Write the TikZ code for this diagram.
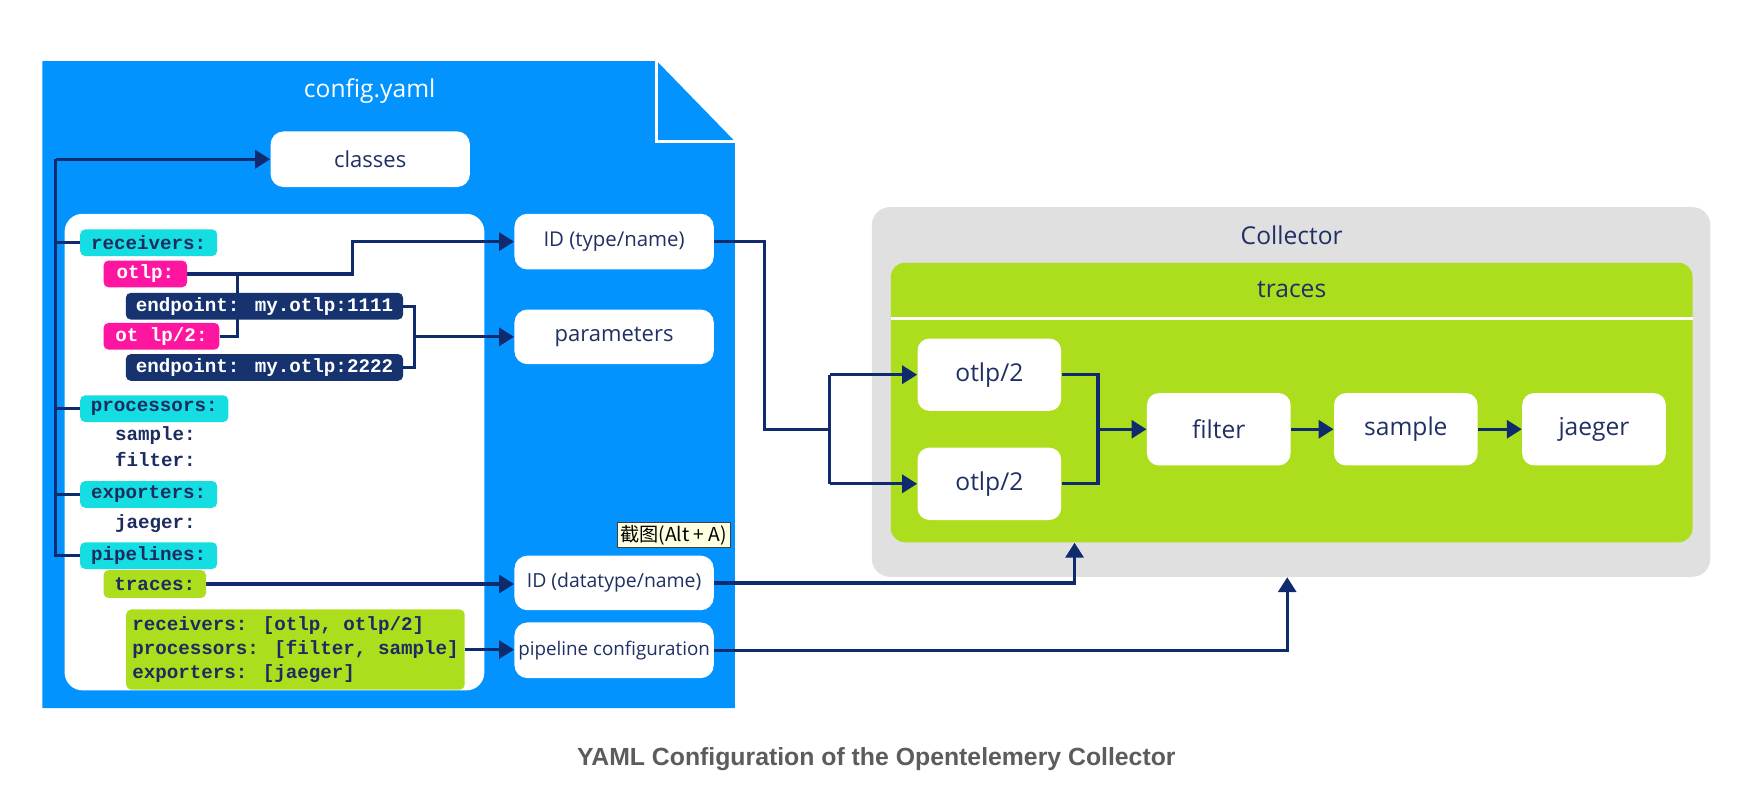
\documentclass[tikz,border=0pt]{standalone}
\usepackage{fontspec}
\setmainfont{Open Sans}
\newfontfamily\lab{Open Sans}
\newfontfamily\code{Liberation Mono}
\newfontfamily\captionfont{Liberation Sans}
\newfontfamily\cjkfont{Noto Sans CJK SC}
\usetikzlibrary{arrows.meta}
\pgfdeclarelayer{back}
\pgfdeclarelayer{mid}
\pgfsetlayers{back,mid,main}
\definecolor{docblue}{RGB}{2,147,255}
\definecolor{arrnavy}{RGB}{16,42,110}
\definecolor{labnavy}{RGB}{32,48,100}
\definecolor{codenavy}{RGB}{28,44,96}
\definecolor{epnavy}{RGB}{22,51,112}
\definecolor{cyanA}{RGB}{20,222,226}
\definecolor{magA}{RGB}{255,22,160}
\definecolor{grnA}{RGB}{172,222,30}
\definecolor{grayA}{RGB}{224,224,224}
\definecolor{tipyellow}{RGB}{255,255,225}
\definecolor{capgray}{RGB}{92,92,92}
\newcommand\bx[7]{\node[#6,minimum width={(#4-#2)*0.55675pt},minimum height={(#5-#3)*0.55675pt}] (#1) at ({(#2+#4)/2},{(#3+#5)/2}) {#7};}
\newcommand\fs[1]{\fontsize{#1}{#1}\selectfont}
\tikzset{
  wbox/.style={fill=white, rounded corners=6.5pt, inner sep=1pt, text=labnavy, font=\lab\fs{11}},
  cbox/.style={fill=white, rounded corners=6pt, inner sep=1pt, text=labnavy, font=\lab\fs{12.3}},
  tag/.style={rounded corners=2.5pt, inner sep=1pt, font=\code\bfseries\fs{9.6}},
  cyantag/.style={tag, fill=cyanA, text=codenavy},
  magtag/.style={tag, fill=magA, text=white},
  eptag/.style={tag, fill=epnavy, text=white},
  greentag/.style={tag, fill=grnA, text=codenavy},
  plaincode/.style={anchor=west, inner sep=0pt, text=codenavy, font=\code\bfseries\fs{9.6}},
  conn/.style={draw=arrnavy, line width=1.6pt},
  arr/.style={conn, -{Triangle[length=7.5pt,width=9pt]}},
  title/.style={inner sep=0pt, font=\lab\fs{12.3}}
}
\begin{document}
\begin{tikzpicture}[x=0.55675pt,y=-0.55675pt]
\useasboundingbox (0,0) rectangle (1568,714);
\begin{pgfonlayer}{back}
  % config document
  \fill[docblue] (38,55) -- (590,55) -- (660,127) -- (660,636) -- (38,636) -- cycle;
  \draw[white, line width=1.5pt] (590,55) -- (590,127) -- (660,127);
  \bx{panel}{58}{192}{435}{620}{fill=white, rounded corners=9pt}{}
  % collector
  \bx{col}{783}{186}{1536}{518}{fill=grayA, rounded corners=9pt}{}
  \bx{tp}{800}{236}{1520}{487}{fill=grnA, rounded corners=7pt}{}
  \draw[white, line width=1.8pt] (800,286) -- (1520,286);
\end{pgfonlayer}

\node[title, text=white] (cfgtitle) at (332,82) {config.yaml};
\node[title, text=labnavy] (coltitle) at (1160,211) {Collector};
\node[title, text=labnavy] (trtitle) at (1160,260) {traces};

\bx{classes}{243}{118}{422}{168}{wbox}{classes}
\bx{idt}{462}{192}{641}{242}{wbox, font=\lab\fs{10.2}}{ID (type/name)}
\bx{params}{462}{278}{641}{327}{wbox}{parameters}
\bx{idd}{462}{499}{641}{548}{wbox, font=\lab\fs{9.7}}{ID (datatype/name)}
\bx{pc}{462}{559}{641}{609}{wbox, font=\lab\fs{9.4}}{pipeline configuration}

\bx{rec}{72}{206}{195}{230}{cyantag}{receivers:}
\bx{otlp}{93}{234}{168}{258}{magtag}{otlp:}
\bx{ep1}{113}{263}{362}{287}{eptag}{endpoint: my.otlp:1111}
\bx{otlpb}{93}{290}{197}{314}{magtag}{ot lp/2:}
\bx{ep2}{113}{318}{362}{342}{eptag}{endpoint: my.otlp:2222}
\bx{proc}{72}{355}{205}{379}{cyantag}{processors:}
\node[plaincode] (sample) at (103,391) {sample:};
\node[plaincode] (filterk) at (103,413) {filter:};
\bx{exp}{72}{432}{195}{456}{cyantag}{exporters:}
\node[plaincode] (jaegerk) at (103,470) {jaeger:};
\bx{pip}{72}{487}{195}{511}{cyantag}{pipelines:}
\bx{trc}{93}{512}{185}{537}{greentag}{traces:}
\node[greentag, anchor=north west, align=left, inner sep=0pt, minimum width={304*0.55675pt}, minimum height={72*0.55675pt}, font=\code\bfseries\fontsize{9.6}{12.2}\selectfont] (gcfg) at (113,547) {receivers: [otlp, otlp/2]\\processors: [filter, sample]\\exporters: [jaeger]};

\node[draw=black!75, fill=tipyellow, line width=0.5pt, inner xsep=1.5pt, inner ysep=1.3pt, text=black, font=\cjkfont\fs{9.6}] (tip) at (605,480.5) {截图(Alt + A)};

\bx{o1}{824}{304}{953}{369}{cbox}{otlp/2}
\bx{o2}{824}{402}{953}{467}{cbox}{otlp/2}
\bx{filter}{1030}{353}{1159}{418}{cbox}{filter}
\bx{samp}{1198}{353}{1327}{418}{cbox}{sample}
\bx{jaeger}{1367}{353}{1496}{418}{cbox}{jaeger}

\begin{pgfonlayer}{mid}
  \coordinate (bus) at (50,143);
  \draw[arr] (bus) -- (classes.west);
  \draw[conn] (bus) -- (bus |- pip.west) -- (pip.west);
  \draw[conn] (bus |- rec.west) -- (rec.west);
  \draw[conn] (bus |- proc.west) -- (proc.west);
  \draw[conn] (bus |- exp.west) -- (exp.west);
  \draw[arr] (otlp.east) -- ++(148,0) |- (idt.west);
  \coordinate (j0) at (213,246);
  \draw[conn] (otlpb.east) -| (j0);
  \draw[conn] (ep1.east) -- ++(10,0) |- (ep2.east);
  \coordinate (jb) at (372,302.5);
  \draw[arr] (jb) -- (jb -| params.west);
  \coordinate (j1) at (745,385.5);
  \draw[conn] (idt.east) -- ++(45,0) |- (j1);
  \draw[conn] (j1 |- o1.west) -- (j1 |- o2.west);
  \draw[arr] (j1 |- o1.west) -- (o1.west);
  \draw[arr] (j1 |- o2.west) -- (o2.west);
  \draw[arr] (trc.east) -- (trc.east -| idd.west);
  \coordinate (ta) at (965,0);
  \draw[arr] (idd.east) -| (ta |- tp.south);
  \draw[arr] (gcfg.east) -- (gcfg.east -| pc.west);
  \coordinate (ca) at (1156,0);
  \draw[arr] (pc.east) -| (ca |- col.south);
  \coordinate (jf) at (986,385.5);
  \draw[conn] (o1.east) -| (jf);
  \draw[conn] (o2.east) -| (jf);
  \draw[arr] (jf) -- (filter.west);
  \draw[arr] (filter.east) -- (samp.west);
  \draw[arr] (samp.east) -- (jaeger.west);
\end{pgfonlayer}

\node[inner sep=0pt, text=capgray, font=\captionfont\bfseries\fs{12.4}] (caption) at (787,682) {YAML Configuration of the Opentelemery Collector};
\end{tikzpicture}
\end{document}
